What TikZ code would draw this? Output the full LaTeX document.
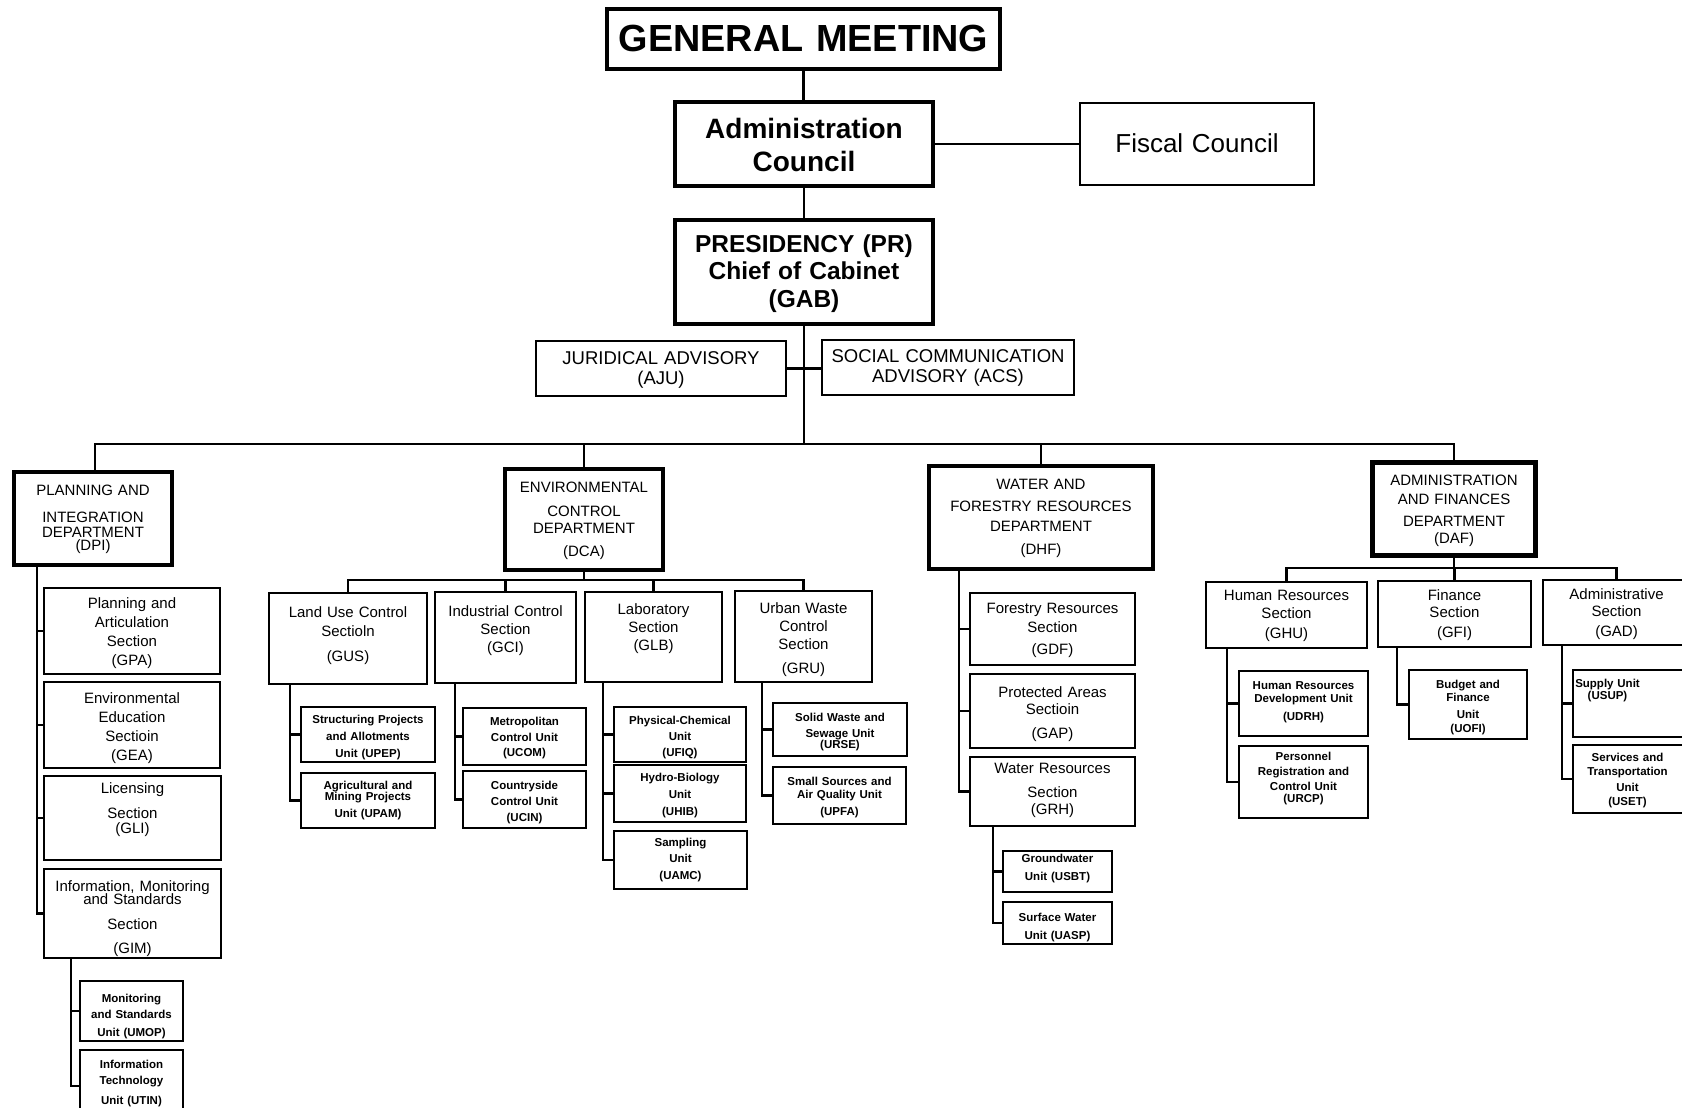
\documentclass[tikz,border=0pt]{standalone}
\usepackage{fontspec}
\setmainfont{Liberation Sans}
\begin{document}
\begin{tikzpicture}[x=1pt,y=-1pt,
  box/.style={draw, line width=1.8pt, inner sep=0pt},
  thickbox/.style={draw, line width=4.6pt, inner sep=0pt},
  link/.style={line width=2.2pt},
  txt/.style={inner sep=0pt, align=center},
  gmf/.style={font=\bfseries\fontsize{37.8}{40}\selectfont},
  acf/.style={font=\bfseries\fontsize{28}{33}\selectfont},
  fcf/.style={font=\fontsize{26}{30}\selectfont},
  prf/.style={font=\bfseries\fontsize{24.5}{27.5}\selectfont},
  advf/.style={font=\fontsize{18.5}{20.5}\selectfont},
  deptf/.style={font=\fontsize{15}{19}\selectfont},
  secf/.style={font=\fontsize{15}{19}\selectfont},
  unitf/.style={font=\bfseries\fontsize{11.5}{15}\selectfont},
]
% #1 frame style, #2 text style, #3 name, #4-#7 corners (x1,y1,x2,y2), #8 first baseline, #9 text
\newcommand\orgbox[9]{%
  \pgfmathsetmacro\obW{#6-#4}%
  \pgfmathsetmacro\obH{#7-#5}%
  \pgfmathsetmacro\obT{#6-#4+40}%
  \pgfmathsetmacro\obX{(#4+#6)/2}%
  \pgfmathsetmacro\obY{(#5+#7)/2}%
  \node[#1, minimum width=\obW pt, minimum height=\obH pt] (#3) at (\obX,\obY) {};
  \node[txt, #2, text width=\obT pt, anchor=base] (#3-t) at (\obX,#8) {#9};
}

\useasboundingbox (0,0) rectangle (1682,1108);
\fill[white] (0,0) rectangle (1682,1108);
\clip (0,0) rectangle (1682,1108);

% ---- top of the organisation
\orgbox{thickbox}{gmf}{GM}{607}{9}{1000}{69}{52}{GENERAL MEETING}
\orgbox{thickbox}{acf}{AC}{675}{102}{933}{186}{138}{Administration\\Council}
\orgbox{box}{fcf}{FC}{1080}{103}{1314}{185}{152}{Fiscal Council}
\orgbox{thickbox}{prf}{PR}{675}{220}{933}{324}{252}{PRESIDENCY (PR)\\Chief of Cabinet\\(GAB)}
\orgbox{box}{advf}{AJU}{536}{341}{786}{396}{364}{JURIDICAL ADVISORY\\(AJU)}
\orgbox{box}{advf}{ACS}{822}{340}{1074}{395}{362}{SOCIAL COMMUNICATION\\ADVISORY (ACS)}

% ---- departments
\orgbox{thickbox}{deptf}{DPI}{14}{472}{172}{565}{495}{PLANNING AND\\[8pt]INTEGRATION\\[-4pt]DEPARTMENT\\[-6pt](DPI)}
\orgbox{thickbox}{deptf}{DCA}{505}{469}{663}{570}{492}{ENVIRONMENTAL\\[5pt]CONTROL\\[-2pt]DEPARTMENT\\[4pt](DCA)}
\orgbox{thickbox}{deptf}{DHF}{929}{466}{1153}{569}{489}{WATER AND\\[3pt]FORESTRY RESOURCES\\[1pt]DEPARTMENT\\[4pt](DHF)}
\orgbox{thickbox}{deptf}{DAF}{1372}{462}{1536}{556}{485}{ADMINISTRATION\\AND FINANCES\\[3pt]DEPARTMENT\\[-2pt](DAF)}
\draw[line width=1.2pt] ([shift={(5,5)}]DAF.north west) rectangle ([shift={(-5,-5)}]DAF.south east);

% ---- planning and integration
\orgbox{box}{secf}{GPA}{44}{588}{220}{674}{608}{Planning and\\Articulation\\Section\\(GPA)}
\orgbox{box}{secf}{GEA}{44}{682}{220}{768}{703}{Environmental\\Education\\Sectioin\\(GEA)}
\orgbox{box}{secf}{GLI}{44}{776}{221}{860}{793}{Licensing\\[6pt]Section\\[-4pt](GLI)}
\orgbox{box}{secf}{GIM}{44}{869}{221}{958}{891}{Information, Monitoring\\[-6pt]and Standards\\[6pt]Section\\[5pt](GIM)}
\orgbox{box}{unitf}{UMOP}{80}{981}{183}{1041}{1002}{Monitoring\\[1pt]and Standards\\[3pt]Unit (UMOP)}
\orgbox{box}{unitf}{UTIN}{80}{1050}{183}{1122}{1068}{Information\\[1pt]Technology\\[5pt]Unit (UTIN)}

% ---- environmental control
\orgbox{box}{secf}{GUS}{269}{593}{427}{684}{617}{Land Use Control\\Sectioln\\[6pt](GUS)}
\orgbox{box}{secf}{GCI}{435}{592}{576}{683}{616}{Industrial Control\\[-1pt]Section\\[-1pt](GCI)}
\orgbox{box}{secf}{GLB}{585}{592}{722}{682}{614}{Laboratory\\[-1pt]Section\\[-1pt](GLB)}
\orgbox{box}{secf}{GRU}{735}{591}{872}{682}{613}{Urban Waste\\[-1pt]Control\\[-1pt]Section\\[5pt](GRU)}
\orgbox{box}{unitf}{UPEP}{301}{707}{435}{762}{723}{Structuring Projects\\[2pt]and Allotments\\[2pt]Unit (UPEP)}
\orgbox{box}{unitf}{UPAM}{301}{773}{435}{828}{789}{Agricultural and\\[-4pt]Mining Projects\\[2pt]Unit (UPAM)}
\orgbox{box}{unitf}{UCOM}{463}{708}{586}{765}{725}{Metropolitan\\[1pt]Control Unit\\[0pt](UCOM)}
\orgbox{box}{unitf}{UCIN}{463}{771}{586}{828}{789}{Countryside\\[1pt]Control Unit\\[1pt](UCIN)}
\orgbox{box}{unitf}{UFIQ}{614}{707}{746}{762}{724}{Physical-Chemical\\[1pt]Unit\\[1pt](UFIQ)}
\orgbox{box}{unitf}{UHIB}{614}{765}{746}{822}{781}{Hydro-Biology\\[2pt]Unit\\[2pt](UHIB)}
\orgbox{box}{unitf}{UAMC}{614}{831}{747}{889}{846}{Sampling\\[1pt]Unit\\[2pt](UAMC)}
\orgbox{box}{unitf}{URSE}{773}{703}{907}{756}{721}{Solid Waste and\\[1pt]Sewage Unit\\[-4pt](URSE)}
\orgbox{box}{unitf}{UPFA}{773}{767}{906}{824}{785}{Small Sources and\\[-2pt]Air Quality Unit\\[2pt](UPFA)}

% ---- water and forestry resources
\orgbox{box}{secf}{GDF}{970}{593}{1135}{665}{613}{Forestry Resources\\Section\\[3pt](GDF)}
\orgbox{box}{secf}{GAP}{970}{674}{1135}{748}{697}{Protected Areas\\[-2pt]Sectioin\\[5pt](GAP)}
\orgbox{box}{secf}{GRH}{970}{757}{1135}{826}{773}{Water Resources\\[5pt]Section\\[-2pt](GRH)}
\orgbox{box}{unitf}{USBT}{1003}{851}{1112}{892}{862}{Groundwater\\[3pt]Unit (USBT)}
\orgbox{box}{unitf}{UASP}{1003}{902}{1112}{944}{921}{Surface Water\\[3pt]Unit (UASP)}

% ---- administration and finances
\orgbox{box}{secf}{GHU}{1206}{582}{1367}{648}{600}{Human Resources\\[-1pt]Section\\[1pt](GHU)}
\orgbox{box}{secf}{GFI}{1378}{581}{1531}{647}{600}{Finance\\[-2pt]Section\\[1pt](GFI)}
\orgbox{box}{secf}{GAD}{1543}{580}{1690}{645}{599}{Administrative\\[-2pt]Section\\[1pt](GAD)}
\orgbox{box}{unitf}{UDRH}{1239}{671}{1368}{736}{689}{Human Resources\\[-2pt]Development Unit\\[3pt](UDRH)}
\orgbox{box}{unitf}{URCP}{1239}{746}{1368}{818}{760}{Personnel\\[0pt]Registration and\\[0pt]Control Unit\\[-3pt](URCP)}
\orgbox{box}{unitf}{UOFI}{1409}{670}{1527}{739}{688}{Budget and\\[-2pt]Finance\\[2pt]Unit\\[-1pt](UOFI)}
\orgbox{box}{unitf,xshift=-24pt}{USUP}{1573}{670}{1690}{737}{687}{Supply Unit\\[-3pt](USUP)}
\orgbox{box}{unitf,xshift=-4pt}{USET}{1573}{745}{1690}{813}{761}{Services and\\[-1pt]Transportation\\[1pt]Unit\\[-1pt](USET)}

% ---- upper links
\draw[link] (GM.south) -- (GM.south |- AC.north);
\draw[link] (AC.east) -- (AC.east -| FC.west);
\draw[link] (AC.south) -- (AC.south |- PR.north);
\draw[link] (AJU.east) -- (AJU.east -| ACS.west);

% ---- main bus to the departments
\coordinate (busL) at (95,444);
\draw[link] (PR.south) -- (PR.south |- busL);
\draw[link] (busL |- DPI.north) -- (busL) -- (DAF.north |- busL) -- (DAF.north);
\draw[link] (DCA.north) -- (DCA.north |- busL);
\draw[link] (DHF.north) -- (DHF.north |- busL);

% ---- planning and integration links
\coordinate (dpiS) at (37,0);
\draw[link] (dpiS |- DPI.south) -- (dpiS |- GIM.west) -- (GIM.west);
\foreach \n in {GPA,GEA,GLI} \draw[link] (dpiS |- \n.west) -- (\n.west);
\coordinate (gimS) at (71,0);
\draw[link] (gimS |- GIM.south) -- (gimS |- UTIN.west) -- (UTIN.west);
\draw[link] (gimS |- UMOP.west) -- (UMOP.west);

% ---- environmental control links
\coordinate (dcaB) at (0,580);
\draw[link] (DCA.south) -- (DCA.south |- dcaB);
\draw[link] (GUS.north) -- (GUS.north |- dcaB) -| (GRU.north);
\draw[link] (GCI.north) -- (GCI.north |- dcaB);
\draw[link] (GLB.north) -- (GLB.north |- dcaB);
\coordinate (gusS) at (290,0);
\draw[link] (gusS |- GUS.south) -- (gusS |- UPAM.west) -- (UPAM.west);
\draw[link] (gusS |- UPEP.west) -- (UPEP.west);
\coordinate (gciS) at (455,0);
\draw[link] (gciS |- GCI.south) -- (gciS |- UCIN.west) -- (UCIN.west);
\draw[link] (gciS |- UCOM.west) -- (UCOM.west);
\coordinate (glbS) at (603,0);
\draw[link] (glbS |- GLB.south) -- (glbS |- UAMC.west) -- (UAMC.west);
\foreach \n in {UFIQ,UHIB} \draw[link] (glbS |- \n.west) -- (\n.west);
\coordinate (gruS) at (762,0);
\draw[link] (gruS |- GRU.south) -- (gruS |- UPFA.west) -- (UPFA.west);
\draw[link] (gruS |- URSE.west) -- (URSE.west);

% ---- water and forestry links
\coordinate (dhfS) at (959,0);
\draw[link] (dhfS |- DHF.south) -- (dhfS |- GRH.west) -- (GRH.west);
\foreach \n in {GDF,GAP} \draw[link] (dhfS |- \n.west) -- (\n.west);
\coordinate (grhS) at (993,0);
\draw[link] (grhS |- GRH.south) -- (grhS |- UASP.west) -- (UASP.west);
\draw[link] (grhS |- USBT.west) -- (USBT.west);

% ---- administration and finances links
\coordinate (dafB) at (0,568);
\draw[link] (DAF.south) -- (DAF.south |- dafB);
\draw[link] (GHU.north) -- (GHU.north |- dafB) -| (GAD.north);
\draw[link] (GFI.north) -- (GFI.north |- dafB);
\coordinate (ghuS) at (1227,0);
\draw[link] (ghuS |- GHU.south) -- (ghuS |- URCP.west) -- (URCP.west);
\draw[link] (ghuS |- UDRH.west) -- (UDRH.west);
\coordinate (gfiS) at (1397,0);
\draw[link] (gfiS |- GFI.south) -- (gfiS |- UOFI.west) -- (UOFI.west);
\coordinate (gadS) at (1562,0);
\draw[link] (gadS |- GAD.south) -- (gadS |- USET.west) -- (USET.west);
\draw[link] (gadS |- USUP.west) -- (USUP.west);
\end{tikzpicture}
\end{document}
